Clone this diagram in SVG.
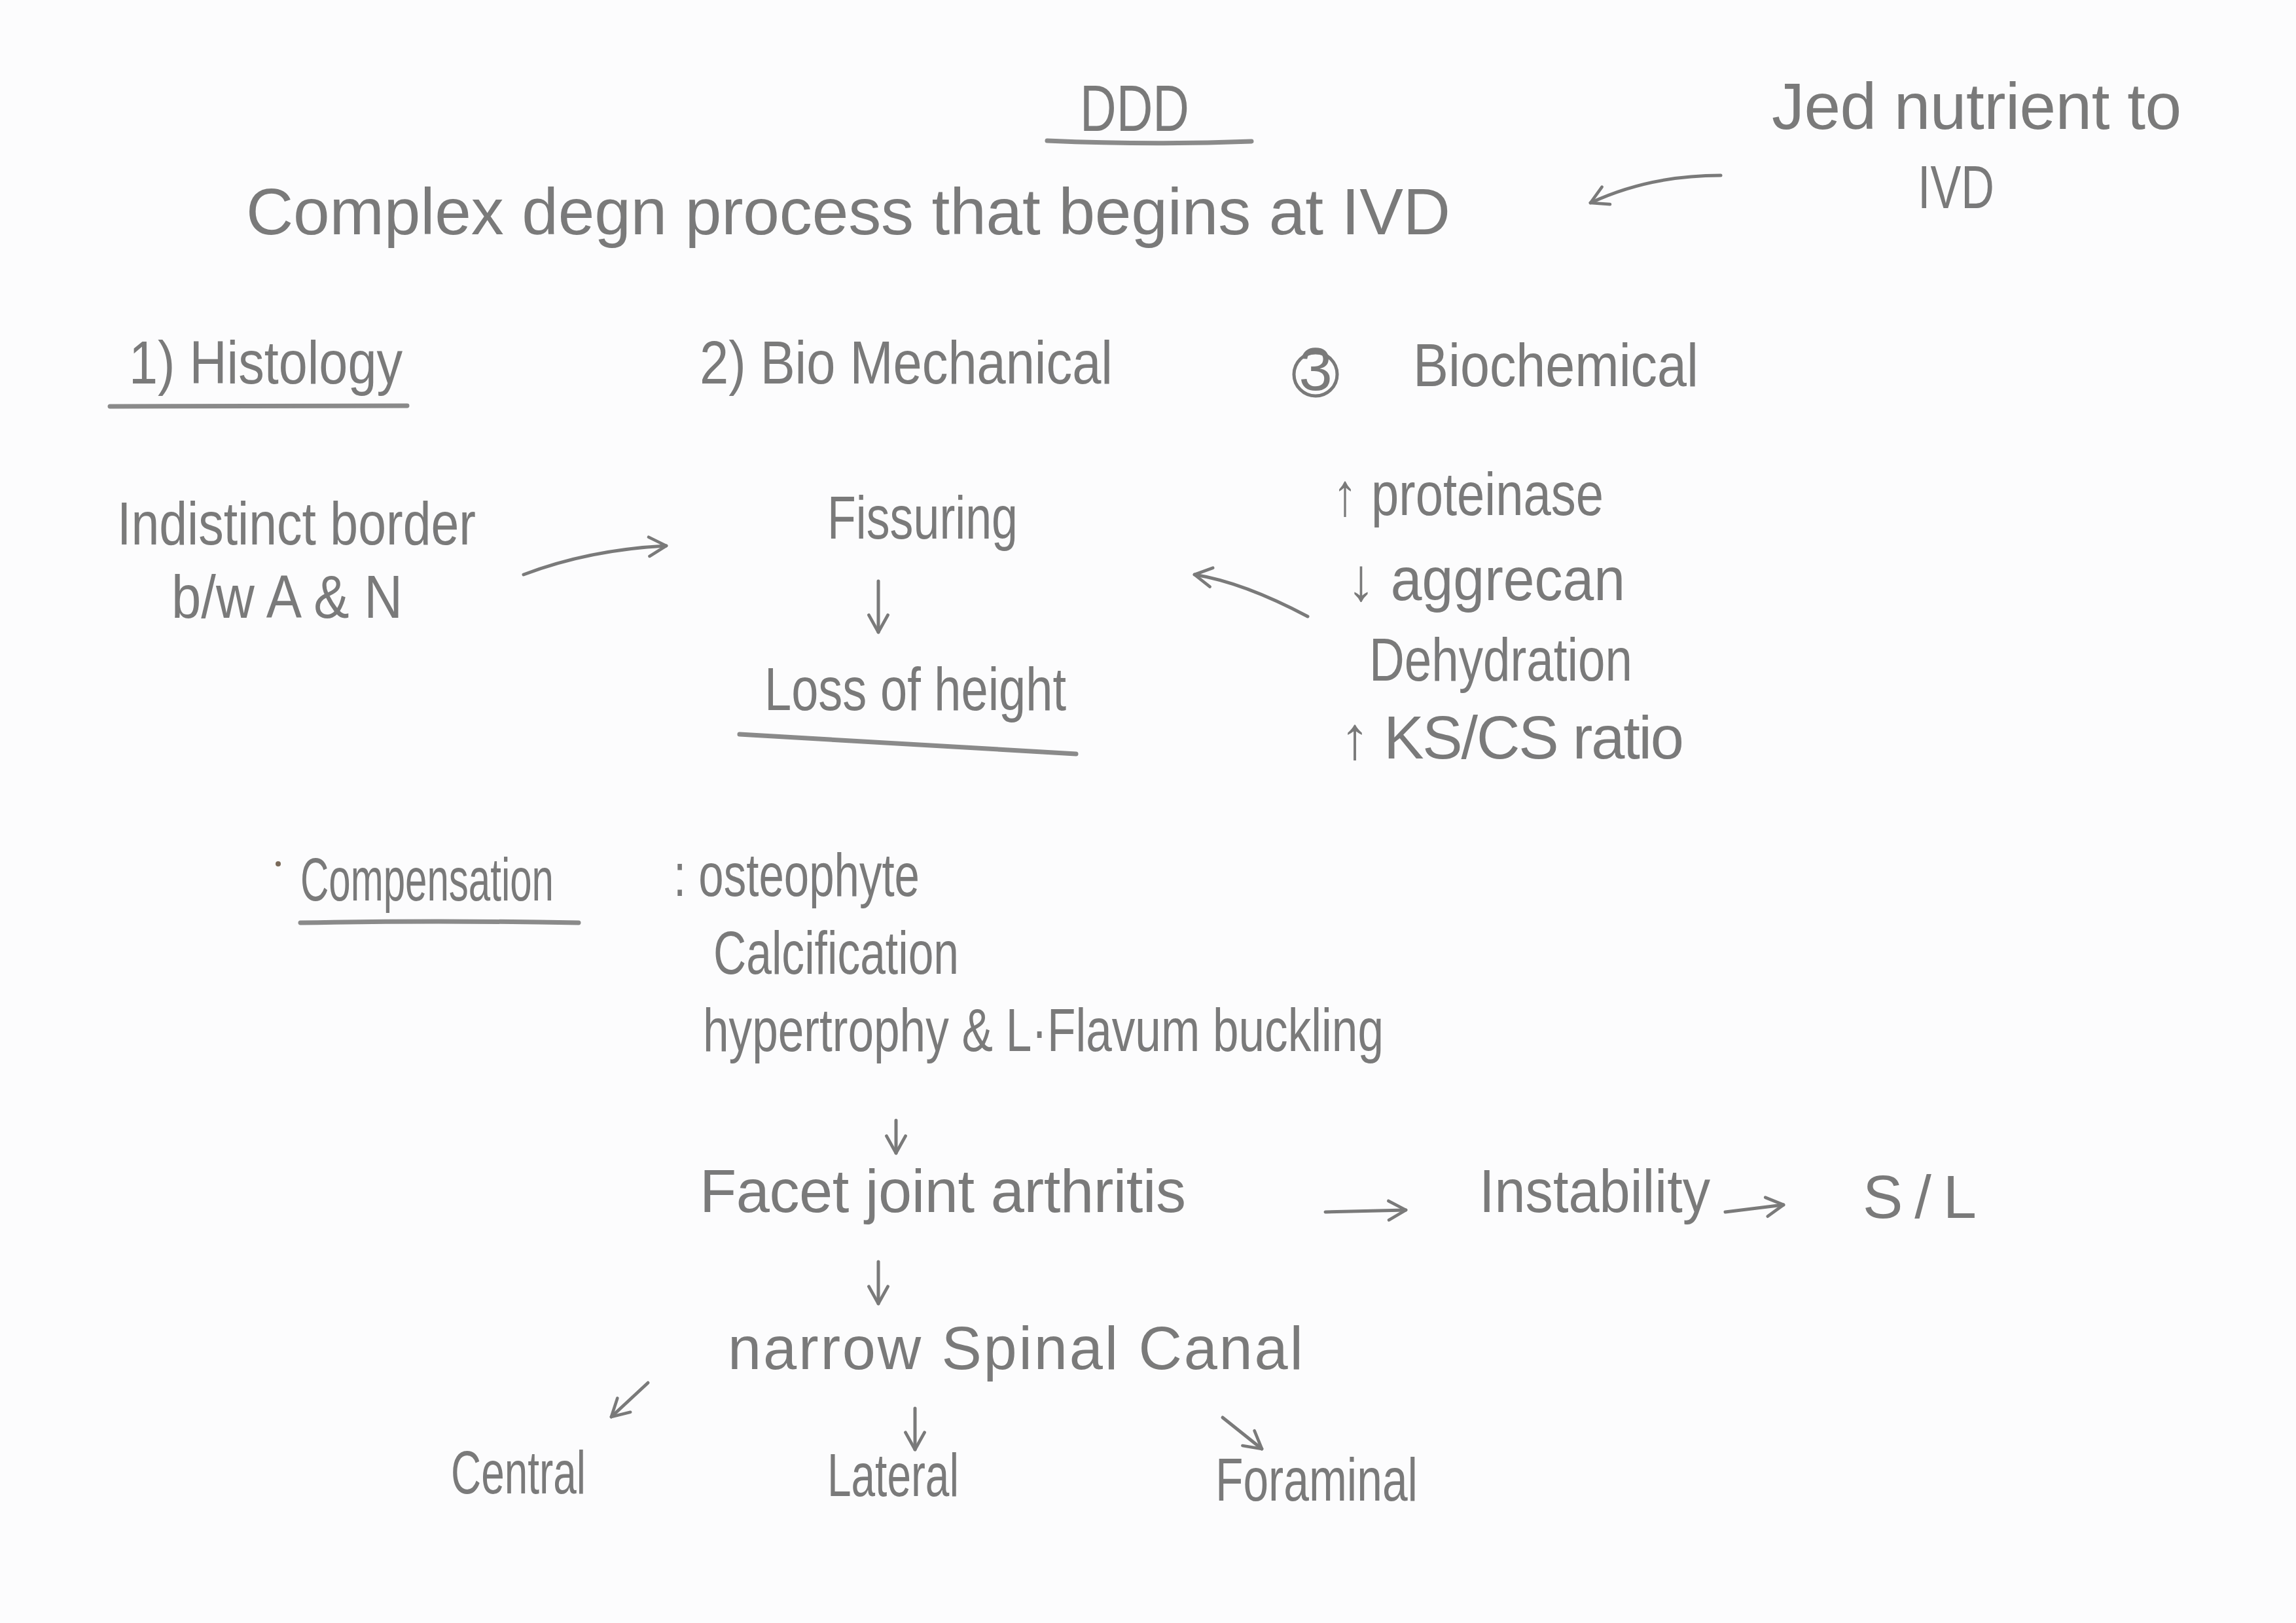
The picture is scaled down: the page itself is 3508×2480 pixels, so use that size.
<svg xmlns="http://www.w3.org/2000/svg" width="3508" height="2480" viewBox="0 0 3508 2480">
  <defs>
    <style>
      .t { font-family: "Liberation Sans Narrow", "Liberation Sans", "DejaVu Sans", sans-serif; fill: #7a7a7a; font-size: 92px; }
      .big { font-size: 100px; }
      .ul { stroke: #8a8a8a; stroke-width: 7; fill: none; stroke-linecap: round; }
      .c { stroke: #7a7a7a; stroke-width: 5; fill: none; stroke-linecap: round; }
    </style>
    <marker id="head" viewBox="0 0 12 12" refX="10" refY="6" markerWidth="7" markerHeight="7" markerUnits="strokeWidth" orient="auto">
      <path d="M1,1 L10,6 L1,11" fill="none" stroke="#7a7a7a" stroke-width="1.6" stroke-linecap="round" stroke-linejoin="round"/>
    </marker>
  </defs>

  <rect width="3508" height="2480" fill="#fcfcfd"/>

  <!-- heading -->
  <g id="title">
    <text class="t big" x="1650" y="200" textLength="167" lengthAdjust="spacingAndGlyphs">DDD</text>
    <path class="ul" d="M1600,215 Q1760,222 1912,216"/>
  </g>
  <g id="definition">
    <text class="t big" x="376" y="358" textLength="1840" lengthAdjust="spacing">Complex degn process that begins at IVD</text>
  </g>
  <g id="nutrient">
    <text class="t big" x="2707" y="197" textLength="626" lengthAdjust="spacing">Jed nutrient to</text>
    <text class="t" x="2930" y="318" textLength="117" lengthAdjust="spacingAndGlyphs">IVD</text>
  </g>

  <!-- three headings -->
  <g id="histology">
    <text class="t" x="197" y="586" textLength="418" lengthAdjust="spacingAndGlyphs">1) Histology</text>
    <path class="ul" d="M168,621 L622,620"/>
  </g>
  <g id="biomechanical">
    <text class="t" x="1069" y="586" textLength="631" lengthAdjust="spacingAndGlyphs">2) Bio Mechanical</text>
  </g>
  <g id="biochemical">
    <circle cx="2010" cy="572" r="33" fill="none" stroke="#7a7a7a" stroke-width="5"/>
    <text class="t" x="2010" y="596" font-size="64" text-anchor="middle">3</text>
    <text class="t" x="2159" y="590" textLength="436" lengthAdjust="spacingAndGlyphs">Biochemical</text>
  </g>

  <!-- histology detail -->
  <g id="border">
    <text class="t" x="179" y="832" textLength="548" lengthAdjust="spacingAndGlyphs">Indistinct border</text>
    <text class="t" x="262" y="944" textLength="353" lengthAdjust="spacingAndGlyphs">b/w A &amp; N</text>
  </g>

  <!-- biomechanical chain -->
  <g id="fissuring">
    <text class="t" x="1264" y="823" textLength="291" lengthAdjust="spacingAndGlyphs">Fissuring</text>
  </g>
  <g id="height">
    <text class="t" x="1168" y="1085" textLength="461" lengthAdjust="spacingAndGlyphs">Loss of height</text>
    <path class="ul" d="M1130,1122 Q1400,1138 1644,1152"/>
  </g>

  <!-- biochemical list -->
  <g id="proteinase">
    <text class="t" x="2036" y="787" textLength="414" lengthAdjust="spacingAndGlyphs">↑ proteinase</text>
  </g>
  <g id="aggrecan">
    <text class="t" x="2058" y="917" textLength="425" lengthAdjust="spacingAndGlyphs">↓ aggrecan</text>
  </g>
  <g id="dehydration">
    <text class="t" x="2092" y="1040" textLength="402" lengthAdjust="spacingAndGlyphs">Dehydration</text>
  </g>
  <g id="ratio">
    <text class="t" x="2047" y="1159" textLength="526" lengthAdjust="spacing">↑ KS/CS ratio</text>
  </g>

  <!-- compensation -->
  <g id="compensation">
    <circle cx="425" cy="1320" r="4" fill="#7a6a5a"/>
    <text class="t" x="459" y="1376" textLength="387" lengthAdjust="spacingAndGlyphs">Compensation</text>
    <path class="ul" d="M459,1410 Q670,1406 884,1410"/>
  </g>
  <g id="osteophyte">
    <text class="t" x="1029" y="1369" textLength="376" lengthAdjust="spacingAndGlyphs">: osteophyte</text>
  </g>
  <g id="calcification">
    <text class="t" x="1090" y="1488" textLength="375" lengthAdjust="spacingAndGlyphs">Calcification</text>
  </g>
  <g id="hypertrophy">
    <text class="t" x="1074" y="1606" textLength="1040" lengthAdjust="spacingAndGlyphs">hypertrophy &amp; L·Flavum buckling</text>
  </g>
  <g id="facet">
    <text class="t" x="1069" y="1852" textLength="743" lengthAdjust="spacing">Facet joint arthritis</text>
  </g>
  <g id="instability">
    <text class="t" x="2260" y="1852" textLength="353" lengthAdjust="spacingAndGlyphs">Instability</text>
  </g>
  <g id="sl">
    <text class="t" x="2846" y="1861" textLength="174" lengthAdjust="spacing">S/L</text>
  </g>
  <g id="canal">
    <text class="t" x="1112" y="2092" textLength="879" lengthAdjust="spacing">narrow Spinal Canal</text>
  </g>
  <g id="central">
    <text class="t" x="689" y="2282" textLength="206" lengthAdjust="spacingAndGlyphs">Central</text>
  </g>
  <g id="lateral">
    <text class="t" x="1264" y="2286" textLength="201" lengthAdjust="spacingAndGlyphs">Lateral</text>
  </g>
  <g id="foraminal">
    <text class="t" x="1857" y="2293" textLength="309" lengthAdjust="spacingAndGlyphs">Foraminal</text>
  </g>

  <!-- connectors -->
  <g id="connectors">
    <path class="c" marker-end="url(#head)" d="M2629,268 Q2520,268 2430,310"/>
    <path class="c" marker-end="url(#head)" d="M800,878 Q900,840 1018,834"/>
    <path class="c" marker-end="url(#head)" d="M1342,888 L1342,966"/>
    <path class="c" marker-end="url(#head)" d="M1998,942 Q1900,890 1825,878"/>
    <path class="c" marker-end="url(#head)" d="M1369,1712 L1369,1762"/>
    <path class="c" marker-end="url(#head)" d="M2025,1852 L2148,1849"/>
    <path class="c" marker-end="url(#head)" d="M2636,1852 L2725,1841"/>
    <path class="c" marker-end="url(#head)" d="M1342,1928 L1342,1992"/>
    <path class="c" marker-end="url(#head)" d="M990,2113 L934,2165"/>
    <path class="c" marker-end="url(#head)" d="M1398,2152 L1398,2215"/>
    <path class="c" marker-end="url(#head)" d="M1868,2166 L1928,2214"/>
  </g>
</svg>
